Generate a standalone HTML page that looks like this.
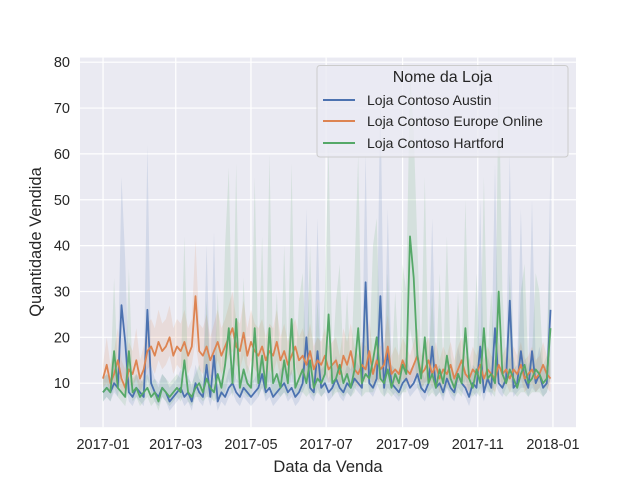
<!DOCTYPE html>
<html><head><meta charset="utf-8"><style>
body{margin:0;background:#fff}
svg{display:block;font-family:"Liberation Sans","DejaVu Sans",sans-serif}
</style></head><body>
<svg id="chart" width="640" height="480" viewBox="0 0 640 480">
<rect x="80" y="57.6" width="496" height="369.6" fill="#eaeaf2"/>
<g id="grid"></g><g id="bands"></g><g id="lines"></g><g id="axes"></g>
<text x="328" y="472" text-anchor="middle" font-size="16.5" fill="#262626">Data da Venda</text>
<text transform="translate(41,242) rotate(-90)" text-anchor="middle" font-size="16.5" fill="#262626">Quantidade Vendida</text>
<g>
<rect x="317" y="65.5" width="251" height="91.5" rx="3" fill="#eaeaf2" fill-opacity="0.8" stroke="#cccccc"/>
<text x="442.5" y="82" text-anchor="middle" font-size="16" fill="#262626">Nome da Loja</text>
<g><line x1="323" y1="100" x2="355" y2="100" stroke="#4c72b0" stroke-width="2"/><text x="367" y="105" font-size="14" fill="#262626">Loja Contoso Austin</text></g>
<g><line x1="323" y1="121" x2="355" y2="121" stroke="#dd8452" stroke-width="2"/><text x="367" y="126" font-size="14" fill="#262626">Loja Contoso Europe Online</text></g>
<g><line x1="323" y1="143" x2="355" y2="143" stroke="#55a868" stroke-width="2"/><text x="367" y="148" font-size="14" fill="#262626">Loja Contoso Hartford</text></g>
</g>
</svg>
<script>
const stepDays = 3;
const yTicks = [10,20,30,40,50,60,70,80];
const xTickLabels = ["2017-01","2017-03","2017-05","2017-07","2017-09","2017-11","2018-01"];
const xTickDays = [0,59,120,181,243,304,365];
const austinMean = [8,9,8,10,9,27,19,8,7,9, 8,7,26,10,8,7,9,8,6,7, 8,9,7,8,6,10,8,7,14,7, 16,6,8,7,9,10,8,7,9,8, 7,8,9,12,8,9,7,8,9,10, 8,9,7,8,10,20,9,8,17,9, 10,8,9,11,9,8,10,9,11,10, 9,32,10,9,11,29,9,17,10,9, 8,10,11,9,10,12,9,8,10,18, 9,10,8,11,9,8,12,10,9,7, 10,9,18,8,11,9,22,10,9,11, 28,9,10,17,11,9,17,10,12,9, 10,26];
const austinUpper = [11,12,11,14,12,55,37,11,10,12, 11,10,62,14,11,10,12,11,9,10, 11,13,10,12,9,14,11,10,40,10, 43,9,11,10,13,14,11,10,13,11, 10,11,13,17,11,13,10,11,13,14, 11,13,10,11,14,48,13,11,46,13, 14,11,13,16,13,11,14,13,16,14, 13,60,14,13,16,75,13,48,14,13, 11,14,16,13,14,18,13,11,14,46, 13,14,11,16,13,11,18,14,13,10, 14,13,50,11,16,13,58,14,13,16, 60,13,14,48,16,13,50,14,18,13, 14,58];
const austinLower = [6,7,6,8,7,12,10,6,5,7, 6,5,11,8,6,5,7,6,4,5, 6,7,5,6,4,8,6,5,8,5, 8,4,6,5,7,8,6,5,7,6, 5,6,7,9,6,7,5,6,7,8, 6,7,5,6,8,10,7,6,9,7, 8,6,7,9,7,6,8,7,9,8, 7,14,8,7,9,12,7,9,8,7, 6,8,9,7,8,9,7,6,8,9, 7,8,6,9,7,6,9,8,7,5, 8,7,9,6,9,7,10,8,7,9, 12,7,8,9,9,7,9,8,9,7, 8,11];
const europeMean = [11,14,10,12,15,11,9,13,12,15, 11,13,17,18,16,19,17,18,20,16, 18,17,19,16,18,29,17,16,18,15, 17,19,16,18,20,22,18,17,21,16, 19,17,16,18,15,17,16,19,15,17, 14,16,18,15,16,14,17,13,15,14, 16,13,14,15,12,16,14,17,13,12, 14,13,17,12,15,13,14,18,12,13, 12,15,13,12,14,16,12,13,15,12, 14,11,13,12,14,11,13,15,12,11, 13,12,14,11,13,12,11,14,12,13, 11,13,12,14,11,12,13,11,12,14, 12,11];
const europeUpper = [14,20,14,17,22,15,13,19,17,22, 15,18,23,24,22,26,23,24,27,22, 24,23,26,22,24,41,23,22,25,20, 23,26,22,24,27,30,24,23,28,22, 26,23,22,24,20,23,22,26,20,23, 19,22,24,20,22,19,23,18,20,19, 22,18,19,20,16,22,19,23,18,16, 19,18,24,16,20,18,19,25,16,18, 16,20,18,16,19,22,16,18,20,16, 19,15,18,16,19,15,18,20,16,15, 18,16,19,15,18,16,15,19,16,18, 15,18,16,19,15,16,18,15,16,19, 16,15];
const europeLower = [9,10,8,9,11,8,7,10,9,11, 8,10,13,14,12,15,13,14,16,12, 14,13,15,12,14,19,13,12,14,11, 13,15,12,14,16,17,14,13,16,12, 15,13,12,14,11,13,12,15,11,13, 11,12,14,11,12,11,13,10,11,11, 12,10,11,11,9,12,11,13,10,9, 11,10,13,9,11,10,11,13,9,10, 9,11,10,9,11,12,9,10,11,9, 11,8,10,9,11,8,10,11,9,8, 10,9,11,8,10,9,8,11,9,10, 8,10,9,11,8,9,10,8,9,11, 9,8];
const hartfordMean = [8,9,8,17,9,8,7,17,8,9, 7,8,9,7,8,6,9,8,7,8, 9,8,15,8,7,9,10,8,11,9, 8,12,9,14,22,10,24,9,13,10, 9,22,10,16,9,22,10,12,9,15, 10,24,9,11,13,10,15,9,11,10, 12,25,10,11,14,10,12,9,13,22, 10,12,11,15,20,11,10,13,9,12, 10,14,12,42,33,16,11,20,10,12, 9,13,10,16,11,9,12,10,22,11, 9,13,10,22,11,12,10,30,12,10, 13,11,9,12,14,10,11,13,12,10, 11,22];
const hartfordUpper = [11,12,11,33,12,11,10,35,11,12, 10,11,12,10,11,9,12,11,10,11, 12,11,42,11,10,12,14,11,28,12, 11,30,12,40,57,14,58,12,33,14, 12,55,14,42,12,60,14,30,12,40, 14,58,12,28,34,14,40,12,28,14, 30,62,14,28,36,14,30,12,34,60, 14,30,16,40,46,16,14,34,12,30, 14,36,30,78,65,40,16,55,14,30, 12,34,14,42,16,12,30,14,50,16, 12,34,14,55,16,30,14,78,30,14, 34,16,12,30,36,14,16,34,30,14, 16,45];
const hartfordLower = [6,7,6,9,7,6,5,9,6,7, 5,6,7,5,6,4,7,6,5,6, 7,6,8,6,5,7,7,6,7,7, 6,7,7,8,11,7,12,7,8,7, 7,11,7,9,7,11,7,8,7,8, 7,12,7,8,8,7,8,7,8,7, 8,13,7,8,8,7,8,7,8,11, 7,8,8,8,10,8,7,8,7,8, 7,8,8,22,17,9,8,10,7,8, 7,8,7,9,8,7,8,7,11,8, 7,8,7,11,8,8,7,15,8,7, 8,8,7,8,8,7,8,8,8,7, 8,11];

const L=80,R=576,T=57.6,B=427.2, yMin=0.4, yMax=81, dMin=-18.7, dMax=383.7;
const xs = d => L + (d-dMin)/(dMax-dMin)*(R-L);
const ys = v => B - (v-yMin)/(yMax-yMin)*(B-T);
const NS="http://www.w3.org/2000/svg";
function mk(tag, attrs, parent){const e=document.createElementNS(NS,tag);for(const k in attrs)e.setAttribute(k,attrs[k]);parent.appendChild(e);return e;}
const grid=document.getElementById('grid'), axes=document.getElementById('axes');
yTicks.forEach(v=>{
  const g=mk('line',{x1:L,x2:R,y1:ys(v),y2:ys(v),stroke:'#fff','stroke-width':1.2},grid);
  
  
  const t=mk('text',{x:L-10,y:ys(v)+5,'text-anchor':'end','font-size':14.5,fill:'#262626'},axes);
  t.textContent=v;
  
  
});
xTickDays.forEach((d,i)=>{
  const g=mk('line',{x1:xs(d),x2:xs(d),y1:T,y2:B,stroke:'#fff','stroke-width':1.2},grid);
  
  
  const t=mk('text',{x:xs(d),y:B+22,'text-anchor':'middle','font-size':14.5,fill:'#262626'},axes);
  t.textContent=xTickLabels[i];
  
  
});
const series=[
 {name:'austin',mean:austinMean,up:austinUpper,lo:austinLower,c:'#4c72b0'},
 {name:'europe-online',mean:europeMean,up:europeUpper,lo:europeLower,c:'#dd8452'},
 {name:'hartford',mean:hartfordMean,up:hartfordUpper,lo:hartfordLower,c:'#55a868'}];
const bands=document.getElementById('bands'), lines=document.getElementById('lines');
series.forEach(s=>{
  let top=s.up.map((v,i)=>xs(i*stepDays).toFixed(1)+','+ys(v).toFixed(1));
  let bot=s.lo.map((v,i)=>xs(i*stepDays).toFixed(1)+','+ys(v).toFixed(1)).reverse();
  const b=mk('polygon',{points:top.concat(bot).join(' '),fill:s.c,'fill-opacity':0.15,stroke:'none'},bands);
  
  
});
series.forEach(s=>{
  const pts=s.mean.map((v,i)=>xs(i*stepDays).toFixed(1)+','+ys(v).toFixed(1)).join(' ');
  const l=mk('polyline',{points:pts,fill:'none',stroke:s.c,'stroke-width':1.8,'stroke-linejoin':'round'},lines);
  
  
});
</script>
</body></html>
